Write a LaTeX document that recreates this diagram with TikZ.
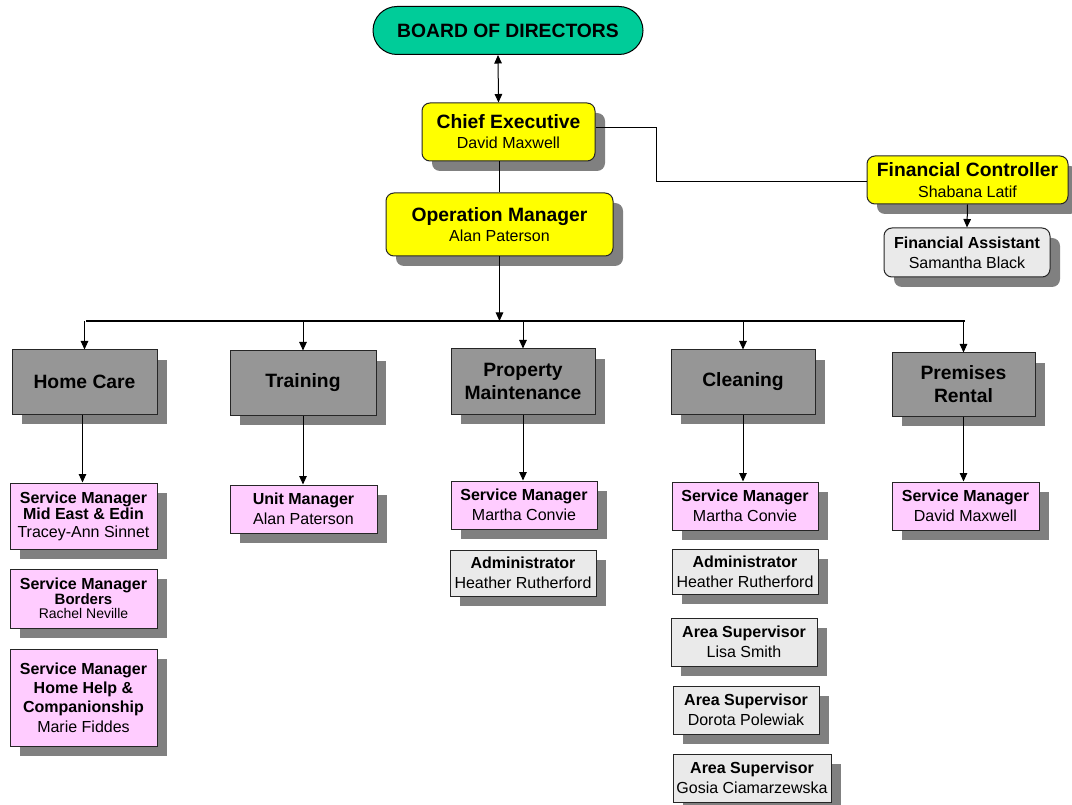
\documentclass[tikz,border=0pt]{standalone}
\usepackage{fontspec}
\setmainfont{Liberation Sans}
\usetikzlibrary{shadows,arrows.meta}
\definecolor{teal1}{RGB}{0,204,153}
\definecolor{yel}{RGB}{255,255,0}
\definecolor{catgray}{RGB}{150,150,150}
\definecolor{shadowgray}{RGB}{128,128,128}
\definecolor{pinkbox}{RGB}{255,204,255}
\definecolor{lgray}{RGB}{234,234,234}
\newcommand{\bigb}[1]{{\fontsize{19.3}{20}\selectfont\bfseries #1}}
\newcommand{\midb}[1]{{\bfseries #1}}
\tikzset{
  box/.style={draw=black!85, line width=1pt, inner sep=0pt, align=center,
    font=\fontsize{16}{20}\selectfont,
    drop shadow={shadow xshift=10pt, shadow yshift=-10pt, fill=shadowgray, opacity=1}},
  ybox/.style={box, fill=yel, rounded corners=8pt},
  fabox/.style={box, fill=lgray, rounded corners=8pt},
  catbox/.style={box, fill=catgray, font=\fontsize{19.3}{23}\selectfont\bfseries},
  pbox/.style={box, fill=pinkbox},
  gbox/.style={box, fill=lgray},
  arr/.style={-{Triangle[length=8.5pt,width=7.5pt]}, line width=1pt},
  dblarr/.style={{Triangle[length=8.5pt,width=7.5pt]}-{Triangle[length=8.5pt,width=7.5pt]}, line width=1pt},
  conn/.style={line width=1pt},
  barline/.style={line width=2pt},
}
\begin{document}
\begin{tikzpicture}[x=1pt,y=-1pt]
\useasboundingbox (0,0) rectangle (1072,805);
\fill[white] (0,0) rectangle (1072,805);

% top
\node[draw=black, line width=1pt, fill=teal1, rounded corners=24pt, minimum width=270pt, minimum height=48pt, inner sep=0pt,
  font=\fontsize{19.3}{20}\selectfont\bfseries] (board) at (508,30.5) {BOARD OF DIRECTORS};
\node[ybox, minimum width=173pt, minimum height=58pt] (chief) at (508.5,132) {\bigb{Chief Executive}\\David Maxwell};
\node[ybox, minimum width=227pt, minimum height=63pt] (opm) at (499.5,224.5) {\bigb{Operation Manager}\\Alan Paterson};
\node[ybox, minimum width=201pt, minimum height=48pt] (fc) at (967.5,180) {\bigb{Financial Controller}\\[1pt]Shabana Latif};
\node[fabox, minimum width=166pt, minimum height=49pt] (fa) at (967,252.5) {\midb{Financial Assistant}\\Samantha Black};

% categories
\node[catbox, minimum width=145pt, minimum height=64pt] (hc) at (84.5,382) {Home Care};
\node[catbox, minimum width=146pt, minimum height=64pt] (tr) at (303,383) {Training};
\node[catbox, minimum width=144pt, minimum height=65pt] (pm) at (523,381.5) {Property\\Maintenance};
\node[catbox, minimum width=144pt, minimum height=64pt] (cl) at (743,382) {Cleaning};
\node[catbox, minimum width=143pt, minimum height=63pt] (pr) at (963.5,384.5) {Premises\\Rental};

% sub boxes
\node[pbox, minimum width=147pt, minimum height=66pt] (smA) at (83.5,516) {\midb{Service Manager}\\[-4pt]\midb{Mid East \& Edin}\\[-2pt]Tracey-Ann Sinnet};
\node[pbox, minimum width=147pt, minimum height=59pt] (smB) at (83.5,598.5) {\midb{Service Manager}\\[-5pt]{\fontsize{15}{18}\selectfont\bfseries Borders}\\[-6pt]{\fontsize{14}{16}\selectfont Rachel Neville}};
\node[pbox, minimum width=147pt, minimum height=97pt] (smC) at (83.5,697.5) {\midb{Service Manager}\\[-1pt]\midb{Home Help \&}\\[-1pt]\midb{Companionship}\\Marie Fiddes};
\node[pbox, minimum width=147pt, minimum height=48pt] (um) at (303.5,509) {\midb{Unit Manager}\\Alan Paterson};
\node[pbox, minimum width=146pt, minimum height=48pt] (psm) at (524,505) {\midb{Service Manager}\\Martha Convie};
\node[gbox, minimum width=146pt, minimum height=46pt] (padm) at (523,573) {\midb{Administrator}\\Heather Rutherford};
\node[pbox, minimum width=146pt, minimum height=48pt] (csm) at (745,506) {\midb{Service Manager}\\Martha Convie};
\node[gbox, minimum width=146pt, minimum height=45pt] (cadm) at (745,571.5) {\midb{Administrator}\\Heather Rutherford};
\node[gbox, minimum width=146pt, minimum height=48pt] (asA) at (744,642) {\midb{Area Supervisor}\\Lisa Smith};
\node[gbox, minimum width=146pt, minimum height=48pt] (asB) at (746,710) {\midb{Area Supervisor}\\Dorota Polewiak};
\node[gbox, minimum width=158pt, minimum height=48pt] (asC) at (752,778) {\midb{Area Supervisor}\\Gosia Ciamarzewska};
\node[pbox, minimum width=147pt, minimum height=48pt] (rsm) at (965.5,506) {\midb{Service Manager}\\David Maxwell};

% connectors top
\draw[dblarr] ([xshift=-10pt]board.south) -- ([xshift=-10pt]chief.north);
\draw[conn] (opm.north |- chief.south) -- (opm.north);
\coordinate (elbow) at (656,0);
\draw[conn] ([yshift=4pt]chief.east) -- ([yshift=4pt]chief.east -| elbow) |- ([yshift=-2pt]fc.west);
\draw[arr] (fc.south) -- (fa.north);

% bar
\coordinate (barL) at (86,321);
\coordinate (barR) at (965,321);
\draw[arr] (opm.south) -- (opm.south |- barL);
\draw[barline] (barL) -- (barR);
\draw[arr] (hc.north |- barL) -- (hc.north);
\draw[arr] (tr.north |- barL) -- (tr.north);
\draw[arr] (pm.north |- barL) -- (pm.north);
\draw[arr] (cl.north |- barL) -- (cl.north);
\draw[arr] (pr.north |- barL) -- (pr.north);

% down to sub boxes
\draw[arr] ([xshift=-2pt]hc.south) -- ([xshift=-2pt]hc.south |- smA.north);
\draw[arr] (tr.south) -- (tr.south |- um.north);
\draw[arr] (pm.south) -- (pm.south |- psm.north);
\draw[arr] (cl.south) -- (cl.south |- csm.north);
\draw[arr] (pr.south) -- (pr.south |- rsm.north);
\end{tikzpicture}
\end{document}
